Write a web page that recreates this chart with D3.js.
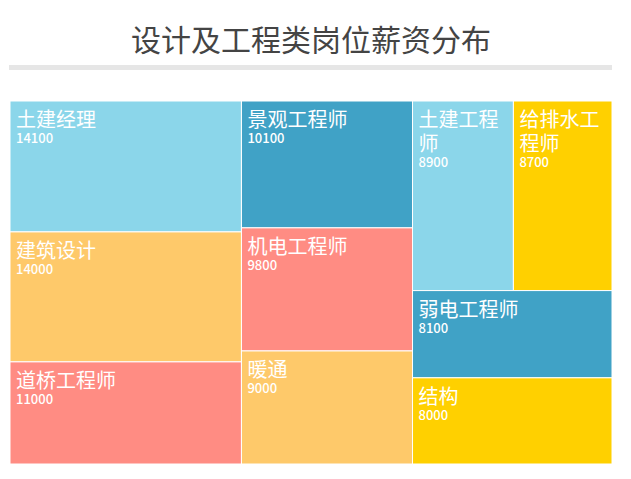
<!DOCTYPE html>
<html>
<head>
<meta charset="utf-8">
<script src="https://cdn.jsdelivr.net/npm/d3@7"></script>
<style>
html,body{margin:0;padding:0;background:#fff;}
svg{display:block;}
</style>
</head>
<body>
<svg id="chart" width="631" height="479"></svg>
<script>
const title = "设计及工程类岗位薪资分布";
const names = ["土建经理","建筑设计","道桥工程师","景观工程师","机电工程师","暖通","土建工程师","给排水工程师","弱电工程师","结构"];
const values = [14100,14000,11000,10100,9800,9000,8900,8700,8100,8000];
const colors = ["#8bd6ea","#fec96a","#ff8c83","#40a2c6","#ff8c83","#fec96a","#8bd6ea","#ffd000","#40a2c6","#ffd000"];

const area = {x0:10, y0:101, x1:612, y1:464};
const svg = d3.select("#chart");
const font = "'Noto Sans CJK SC','Microsoft YaHei',sans-serif";

svg.append("text")
  .attr("x", 311).attr("y", 51)
  .attr("text-anchor","middle")
  .attr("font-family", font)
  .attr("font-size", 30)
  .attr("fill","#444")
  .text(title);

svg.append("rect")
  .attr("x", 9).attr("y", 65).attr("width", 603).attr("height", 5)
  .attr("fill","#e6e6e6");

const data = {children: names.map((n,i)=>({name:n, value:values[i], color:colors[i]}))};
const root = d3.hierarchy(data).sum(d=>d.value||0).sort((a,b)=>b.value-a.value);
d3.treemap().tile(d3.treemapSquarify).size([area.x1-area.x0, area.y1-area.y0])(root);

const g = svg.append("g").attr("transform",`translate(${area.x0},${area.y0})`);
const cell = g.selectAll("g.cell").data(root.leaves()).join("g")
  .attr("class","cell")
  .attr("transform", d=>`translate(${d.x0},${d.y0})`);

cell.append("rect")
  .attr("width", d=>d.x1-d.x0)
  .attr("height", d=>d.y1-d.y0)
  .attr("fill", d=>d.data.color)
  .attr("stroke","#fff").attr("stroke-width",1);

const fs = 20, pad = 6, lh = 24;
cell.each(function(d){
  const w = d.x1 - d.x0 - pad*2;
  const perLine = Math.max(1, Math.floor(w / fs));
  const chars = Array.from(d.data.name);
  const lines = [];
  for (let i=0;i<chars.length;i+=perLine) lines.push(chars.slice(i,i+perLine).join(""));
  const sel = d3.select(this);
  lines.forEach((ln,i)=>{
    sel.append("text")
      .attr("x", pad).attr("y", 26 + i*lh)
      .attr("font-family", font).attr("font-size", fs)
      .attr("fill","#fff").text(ln);
  });
  sel.append("text")
    .attr("x", pad).attr("y", 26 + (lines.length-1)*lh + 16)
    .attr("font-family", font).attr("font-size", 13)
    .attr("font-weight", 500)
    .attr("fill","#fff").text(d.data.value);
});
</script>
</body>
</html>
